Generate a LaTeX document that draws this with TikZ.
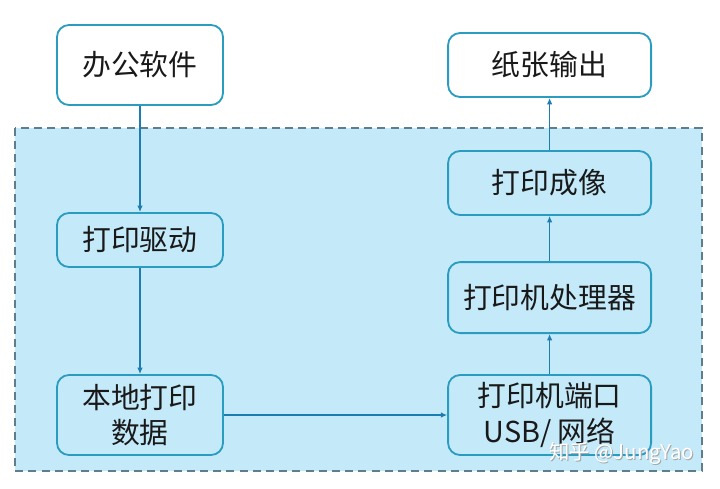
\documentclass[tikz,border=0pt]{standalone}
\usepackage{fontspec}
\setmainfont{Noto Sans CJK SC}
\usepackage{tikz}
\usetikzlibrary{arrows.meta}
\definecolor{rim}{HTML}{2A9CC0}
\definecolor{flow}{HTML}{1C7DB2}
\definecolor{pool}{HTML}{C4EAFA}
\definecolor{edge}{HTML}{5E7E8E}
\begin{document}
\begin{tikzpicture}[
  every node/.style={font=\fontsize{20.5}{25}\selectfont,text=black!90},
  box/.style={rounded corners=3mm,draw=rim,line width=1.3pt,align=center,inner sep=0pt},
  lbox/.style={box,minimum width=4.15cm},
  rbox/.style={box,minimum width=5.075cm},
  arr/.style={-{Latex[length=1.6mm,width=1.4mm]},line width=0.9pt,flow},
  wmark/.style={font=\fontsize{14.5}{16}\selectfont}]
  \useasboundingbox (0,0) rectangle (18,-12.2);
  % dashed region for the local side
  \draw[fill=pool,draw=edge,line width=1pt,dash pattern=on 2mm off 1.3mm] (0.375,-3.2) rectangle (17.55,-11.775);
  \node[lbox,fill=white,minimum height=2cm] (soft) at (3.5,-1.625) {办公软件};
  \node[lbox,fill=pool,minimum height=1.35cm] (drv) at (3.5,-6.0) {打印驱动};
  \node[lbox,fill=pool,minimum height=2cm] (data) at (3.5,-10.375) {本地打印\\数据};
  \node[rbox,fill=white,minimum height=1.6cm] (paper) at (13.74,-1.625) {纸张输出};
  \node[rbox,fill=pool,minimum height=1.6cm] (img) at (13.74,-4.575) {打印成像};
  \node[rbox,fill=pool,minimum height=1.775cm] (cpu) at (13.74,-7.44) {打印机处理器};
  \node[rbox,fill=pool,minimum height=2cm] (port) at (13.74,-10.375) {打印机端口\\USB/ 网络};
  \draw[arr] (soft) -- (drv);
  \draw[arr] (drv) -- (data);
  \draw[arr] (data) -- (port);
  \draw[arr] (port) -- (cpu);
  \draw[arr] (cpu) -- (img);
  \draw[arr] (img) -- (paper);
  % watermark
  \node[wmark,text=gray!70] (markbg) at (15.565,-11.355) {知乎 @JungYao};
  \node[wmark,text=white] (mark) at (15.54,-11.33) {知乎 @JungYao};
\end{tikzpicture}
\end{document}
